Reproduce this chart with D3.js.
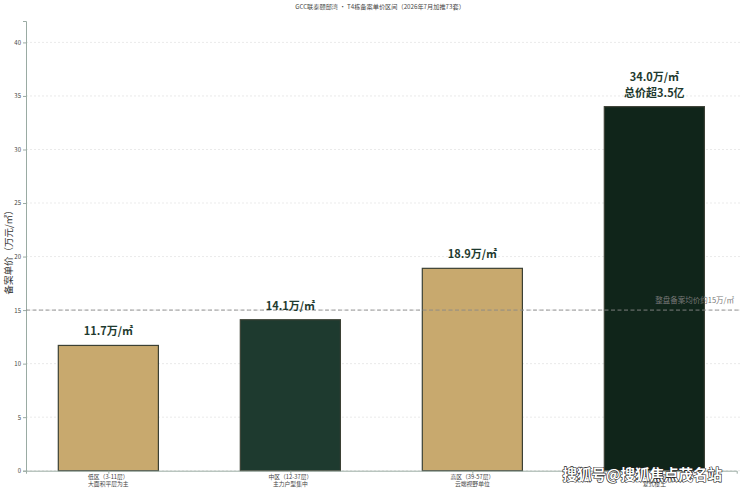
<!DOCTYPE html>
<html><head><meta charset="utf-8">
<script src="https://cdn.jsdelivr.net/npm/d3@7"></script>
<style>body{margin:0;background:#fff}svg{display:block}text{font-family:"Noto Sans CJK SC","Noto Sans",sans-serif}</style>
</head><body><svg id="c" width="740" height="491"></svg>
<script>
const categories = ["低区（3-11层）\n大面积平层为主","中区（12-37层）\n主力户型集中","高区（39-57层）\n云端视野单位","顶层（58层）\n复式楼王"];
const values = [11.7, 14.1, 18.9, 34.0];
const valueLabels = ["11.7万/㎡","14.1万/㎡","18.9万/㎡","34.0万/㎡\n总价超3.5亿"];
const barColors = ["#c8a96e","#1e3a2f","#c8a96e","#10251a"];
const yTicks = [0,5,10,15,20,25,30,35,40];
const refValue = 15;
const refLabel = "整盘备案均价约15万/㎡";
const title = "GCC联泰颐邸湾 · T4栋备案单价区间（2026年7月加推73套）";
const yLabel = "备案单价（万元/㎡）";
const watermark = "搜狐号@搜狐焦点茂名站";

const svg = d3.select("#c");
const L = 26, T = 21, B = 470.7;
const barW = 0.55;
const x = d3.scaleLinear().domain([-0.4525, 3.4525]).range([L, L + 182*3.905]);
const y = d3.scaleLinear().domain([0, 42]).range([B, T]);

svg.append("text").attr("x", 380).attr("y", 9).attr("text-anchor","middle")
  .attr("font-size", 6.2).attr("fill","#444").text(title);

// grid
svg.append("g").selectAll("line").data(yTicks).join("line")
  .attr("x1", L).attr("x2", 740).attr("y1", d=>y(d)).attr("y2", d=>y(d))
  .attr("stroke","#dcdcdc").attr("stroke-width",0.6).attr("stroke-dasharray","2,2");

// y axis
const ya = svg.append("g").attr("transform",`translate(${L},0)`)
  .call(d3.axisLeft(y).tickValues(yTicks).tickSize(3).tickPadding(2));
ya.select(".domain").attr("stroke","#9aaba3");
ya.selectAll(".tick line").attr("stroke","#9aaba3");
ya.selectAll("text").attr("font-size",6).attr("fill","#444");

// bars
svg.append("g").selectAll("rect").data(values).join("rect")
  .attr("x",(d,i)=>x(i-barW/2)).attr("width",(d,i)=>x(i+barW/2)-x(i-barW/2))
  .attr("y",d=>y(d)).attr("height",d=>B-y(d))
  .attr("fill",(d,i)=>barColors[i]).attr("stroke","#3b4034").attr("stroke-width",1.2);

// ref line
svg.append("line").attr("x1",L).attr("x2",740).attr("y1",y(refValue)).attr("y2",y(refValue))
  .attr("stroke","#888").attr("stroke-width",0.9).attr("stroke-dasharray","4,2.5");
svg.append("text").attr("x",734).attr("y",y(refValue)-7).attr("text-anchor","end")
  .attr("font-size",7.5).attr("fill","#777").text(refLabel);

// x axis
const xa = svg.append("g").attr("transform",`translate(0,${B})`)
  .call(d3.axisBottom(x).tickValues(d3.range(categories.length)).tickSize(3).tickFormat(""));
xa.select(".domain").attr("stroke","#9aaba3");
xa.selectAll(".tick line").attr("stroke","#9aaba3");
const xt = svg.append("g").selectAll("text").data(categories).join("text")
  .attr("text-anchor","middle").attr("font-size",5.8).attr("fill","#444");
xt.each(function(d,i){
  d.split("\n").forEach((s,k)=>d3.select(this).append("tspan").attr("x",x(i)).attr("y",B+8+k*7.5).text(s));
});

// value labels (each line its own text)
const vg = svg.append("g");
values.forEach((d,i)=>{
  const lines = valueLabels[i].split("\n");
  const base = y(d) - 10 - (lines.length-1)*15.5;
  lines.forEach((s,k)=>vg.append("text").attr("x",x(i)).attr("y",base+k*15.5)
    .attr("text-anchor","middle").attr("font-size",11).attr("font-weight","bold").attr("fill","#1e3a2f").text(s));
});

// y label
svg.append("text").attr("transform","translate(12,250) rotate(-90)").attr("text-anchor","middle")
  .attr("font-size",9.5).attr("fill","#333").text(yLabel);

// watermark
svg.append("text").attr("x",722).attr("y",480).attr("text-anchor","end")
  .attr("font-size",14.5).attr("font-weight","bold").attr("fill","#fff")
  .attr("stroke","#222").attr("stroke-width",1.2).attr("paint-order","stroke").text(watermark);
</script></body></html>
